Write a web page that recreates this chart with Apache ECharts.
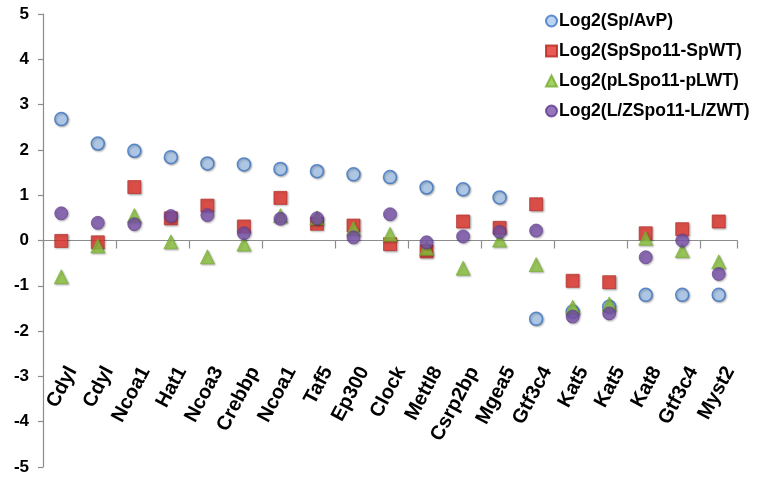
<!DOCTYPE html>
<html>
<head>
<meta charset="utf-8">
<script src="https://cdn.jsdelivr.net/npm/echarts@6/dist/echarts.min.js"></script>
<style>
  html, body { margin: 0; padding: 0; background: #fff; }
  #chart { width: 767px; height: 481px; }
</style>
</head>
<body>
<div id="chart"></div>
<script>
// Gene names along the x axis
const genes = ['Cdyl', 'Cdyl', 'Ncoa1', 'Hat1', 'Ncoa3', 'Crebbp', 'Ncoa1', 'Taf5', 'Ep300', 'Clock',
  'Mettl8', 'Csrp2bp', 'Mgea5', 'Gtf3c4', 'Kat5', 'Kat5', 'Kat8', 'Gtf3c4', 'Myst2'];

// Log2 ratios per gene
const spAvP = [2.68, 2.14, 1.98, 1.84, 1.70, 1.68, 1.58, 1.53, 1.46, 1.40,
  1.17, 1.13, 0.95, -1.73, -1.57, -1.46, -1.20, -1.20, -1.20];
const spSpo11 = [-0.01, -0.04, 1.18, 0.49, 0.77, 0.31, 0.94, 0.37, 0.33, -0.08,
  -0.24, 0.42, 0.28, 0.80, -0.89, -0.92, 0.16, 0.25, 0.42];
const pLSpo11 = [-0.80, -0.12, 0.55, -0.03, -0.36, -0.08, 0.55, 0.50, 0.27, 0.14,
  -0.17, -0.61, 0.01, -0.53, -1.47, -1.40, 0.05, -0.22, -0.47];
const lzSpo11 = [0.60, 0.39, 0.36, 0.54, 0.56, 0.16, 0.48, 0.49, 0.07, 0.58,
  -0.04, 0.09, 0.19, 0.22, -1.68, -1.61, -0.37, 0.00, -0.74];

// Y axis range and step
const yMin = -5, yMax = 5, yStep = 1;

const seriesNames = ['Log2(Sp/AvP)', 'Log2(SpSpo11-SpWT)', 'Log2(pLSpo11-pLWT)', 'Log2(L/ZSpo11-L/ZWT)'];

const font = 'Arial, "Liberation Sans", Helvetica, sans-serif';
const shadow = { shadowColor: 'rgba(0,0,0,0.35)', shadowBlur: 2, shadowOffsetX: 1, shadowOffsetY: 1 };

// plot area, plus a copy nudged right that only carries the gene names
const plotLeft = 43, plotRight = 30, nameShift = 11;

const chart = echarts.init(document.getElementById('chart'));
chart.setOption({
  animation: false,
  backgroundColor: '#fff',
  grid: [
    { left: plotLeft, right: plotRight, top: 14, bottom: 14, outerBoundsMode: 'none' },
    { left: plotLeft + nameShift, right: plotRight - nameShift, top: 14, bottom: 14, outerBoundsMode: 'none' }
  ],
  legend: {
    orient: 'vertical',
    left: 540,
    top: 7,
    itemWidth: 11,
    itemHeight: 11,
    itemGap: 12,
    textStyle: { fontFamily: font, fontWeight: 'bold', fontSize: 17.5, color: '#000', padding: [0, 0, 0, -3] },
    data: seriesNames
  },
  xAxis: [
    {
      // axis line and category ticks sitting on y = 0
      type: 'category',
      gridIndex: 0,
      data: genes,
      boundaryGap: true,
      axisLine: { onZero: true, lineStyle: { color: '#8c8c8c', width: 1.2 } },
      axisTick: { show: true, length: 8, alignWithLabel: false, lineStyle: { color: '#8c8c8c', width: 1.2 } },
      axisLabel: { show: false },
      splitLine: { show: false }
    },
    {
      // gene names in a band below the zero line
      type: 'category',
      gridIndex: 1,
      data: genes,
      position: 'bottom',
      boundaryGap: true,
      axisLine: { show: false, onZero: false },
      axisTick: { show: false },
      axisLabel: {
        interval: 0,
        rotate: 62,
        margin: -99,
        fontFamily: font,
        fontWeight: 'bold',
        fontSize: 20,
        color: '#000'
      },
      splitLine: { show: false }
    }
  ],
  yAxis: [
    {
      type: 'value',
      gridIndex: 0,
      min: yMin,
      max: yMax,
      interval: yStep,
      axisLine: { show: true, lineStyle: { color: '#8c8c8c', width: 1.2 } },
      axisTick: { show: true, length: 5, lineStyle: { color: '#8c8c8c', width: 1.2 } },
      axisLabel: {
        margin: 14,
        fontFamily: font,
        fontWeight: 'bold',
        fontSize: 17,
        color: '#000'
      },
      splitLine: { show: false }
    },
    {
      type: 'value',
      gridIndex: 1,
      min: yMin,
      max: yMax,
      show: false
    }
  ],
  series: [
    {
      name: seriesNames[0], type: 'scatter', symbol: 'circle', symbolSize: 13, data: spAvP,
      itemStyle: Object.assign({ color: '#a9c9ee', borderColor: '#3b73c4', borderWidth: 1.5 }, shadow)
    },
    {
      name: seriesNames[1], type: 'scatter', symbol: 'rect', symbolSize: 13, data: spSpo11,
      itemStyle: Object.assign({ color: '#e2332b', borderColor: '#b52520', borderWidth: 0.8 }, shadow)
    },
    {
      name: seriesNames[2], type: 'scatter', symbol: 'triangle', symbolSize: 14, data: pLSpo11,
      itemStyle: Object.assign({ color: '#8dc63f', borderColor: '#76ad2c', borderWidth: 0.8 }, shadow)
    },
    {
      name: seriesNames[3], type: 'scatter', symbol: 'circle', symbolSize: 13, data: lzSpo11,
      itemStyle: Object.assign({ color: '#7b52ab', borderColor: '#5e3a8c', borderWidth: 0.8 }, shadow)
    }
  ]
});
</script>
</body>
</html>
